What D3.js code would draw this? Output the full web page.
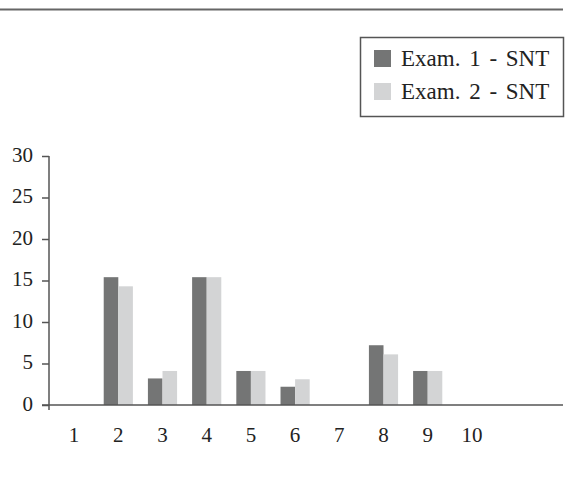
<!DOCTYPE html>
<html>
<head>
<meta charset="utf-8">
<script src="https://cdn.jsdelivr.net/npm/d3@7"></script>
<style>
  body { margin: 0; background: #fff; }
  svg { display: block; }
  svg text { font-family: "Liberation Serif", "DejaVu Serif", serif; }
</style>
</head>
<body>
<div id="chart"></div>
<script>
// categories on the x axis
const categories = ["1", "2", "3", "4", "5", "6", "7", "8", "9", "10"];
const seriesNames = ["Exam. 1 - SNT", "Exam. 2 - SNT"];
const exam1 = [0, 15.4, 3.2, 15.4, 4.1, 2.2, 0, 7.2, 4.1, 0];
const exam2 = [0, 14.3, 4.1, 15.4, 4.1, 3.1, 0, 6.1, 4.1, 0];
const yTicks = [0, 5, 10, 15, 20, 25, 30];
const colors = ["#747575", "#d3d4d5"];

const width = 568, height = 492;

let svg = d3.select("#chart")
  .append("svg")
  .attr("width", width)
  .attr("height", height);

/* rule at the top of the figure */
svg.append("line")
  .attr("x1", 0).attr("x2", 563)
  .attr("y1", 9.5).attr("y2", 9.5)
  .style("stroke", "#666")
  .style("stroke-width", 2);

const x = d3.scaleBand()
  .domain(categories)
  .range([52, 494])
  .paddingInner(0.34)
  .paddingOuter(0.17);

const xSub = d3.scaleBand()
  .domain([0, 1])
  .range([0, x.bandwidth()]);

const y = d3.scaleLinear()
  .domain([0, 30])
  .range([405, 156]);

/* bars */
const rows = categories.map((c, i) => ({ cat: c, vals: [exam1[i], exam2[i]] }));

svg.append("g")
  .selectAll("g")
  .data(rows)
  .join("g")
  .attr("transform", d => `translate(${x(d.cat)},0)`)
  .selectAll("rect")
  .data(d => d.vals.map((v, k) => ({ k: k, v: v })))
  .join("rect")
  .attr("x", d => xSub(d.k))
  .attr("width", xSub.bandwidth())
  .attr("y", d => y(d.v))
  .attr("height", d => y(0) - y(d.v))
  .style("fill", d => colors[d.k]);

/* y axis */
const yAxis = svg.append("g")
  .attr("transform", "translate(49,0)")
  .call(d3.axisLeft(y).tickValues(yTicks).tickSize(7).tickPadding(9));
yAxis.select(".domain").remove();
yAxis.selectAll("line").style("stroke", "#555").style("stroke-width", 1.5);
yAxis.selectAll("text")
  .style("font-size", "21px")
  .style("fill", "#222")
  .attr("dy", "0.25em");

svg.append("line")
  .attr("x1", 49).attr("x2", 49)
  .attr("y1", y(30)).attr("y2", 410)
  .style("stroke", "#555")
  .style("stroke-width", 1.5);

/* x axis */
svg.append("line")
  .attr("x1", 42).attr("x2", 563)
  .attr("y1", y(0)).attr("y2", y(0))
  .style("stroke", "#555")
  .style("stroke-width", 1.5);

const xAxis = svg.append("g")
  .attr("transform", `translate(0,${y(0)})`)
  .call(d3.axisBottom(x).tickSize(0).tickPadding(22));
xAxis.select(".domain").remove();
xAxis.selectAll("text")
  .style("font-size", "21px")
  .style("fill", "#222");

/* legend */
const legend = svg.append("g");
legend.append("rect")
  .attr("x", 360.5).attr("y", 37.5)
  .attr("width", 203).attr("height", 79)
  .style("fill", "none")
  .style("stroke", "#555")
  .style("stroke-width", 1.5);

const item = legend.selectAll(".item")
  .data(seriesNames)
  .join("g")
  .attr("class", "item")
  .attr("transform", (d, i) => `translate(0,${i * 33})`);

item.append("rect")
  .attr("x", 374).attr("y", 50)
  .attr("width", 17).attr("height", 17)
  .style("fill", (d, i) => colors[i]);

item.append("text")
  .attr("x", 401).attr("y", 66)
  .style("font-size", "23px")
  .style("word-spacing", "3px")
  .style("fill", "#222")
  .text(d => d);
</script>
</body>
</html>
